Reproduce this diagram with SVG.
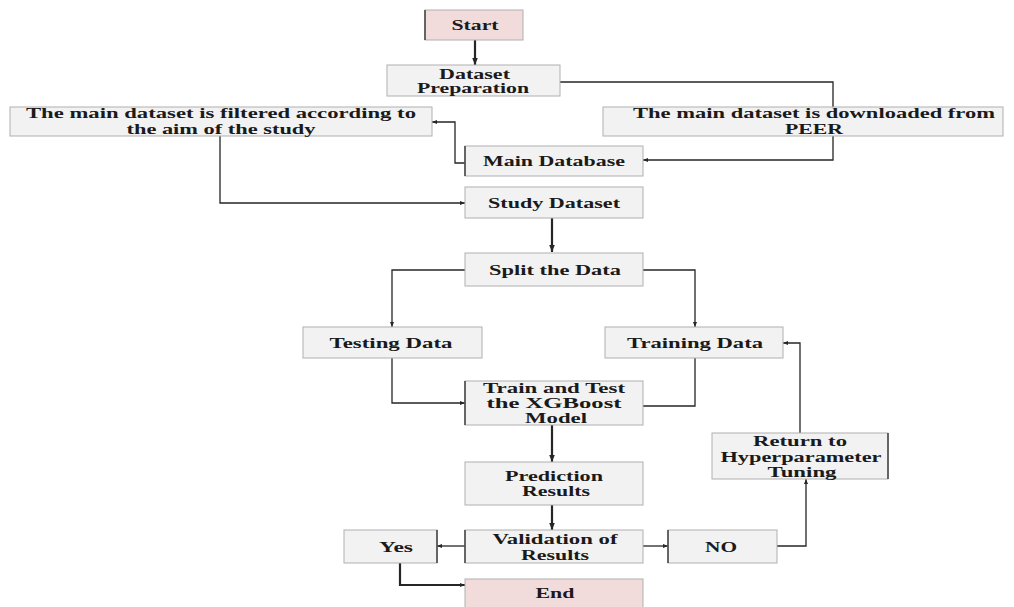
<svg xmlns="http://www.w3.org/2000/svg" width="1014" height="607" viewBox="0 0 1014 607">
<defs>
<style>
.box{fill:#f2f2f2;stroke:#b0b0b0;stroke-width:1}
.pink{fill:#f2dcdb;stroke:#b0b0b0;stroke-width:1}
.edge{stroke:#404040;stroke-width:1.5}
text{font-family:"Liberation Serif","Times New Roman",serif;font-weight:bold;font-size:15px;fill:#1a1a1a;text-anchor:middle}
.c{fill:none;stroke:#262626;stroke-width:1.3}
.ct{fill:none;stroke:#262626;stroke-width:2.2}
</style>
<marker id="a" viewBox="0 0 10 10" refX="10" refY="5" markerWidth="5" markerHeight="5" orient="auto" markerUnits="userSpaceOnUse"><path d="M0,1 L10,5 L0,9 z" fill="#262626"/></marker>
<marker id="b" viewBox="0 0 10 10" refX="10" refY="5" markerWidth="7" markerHeight="7" orient="auto" markerUnits="userSpaceOnUse"><path d="M0,1 L10,5 L0,9 z" fill="#262626"/></marker>
</defs>
<rect width="1014" height="607" fill="#ffffff"/>

<g id="connectors">
<path class="ct" d="M475,40 V65" marker-end="url(#b)"/>
<path class="c" d="M560,82 H833 V107"/>
<path class="c" d="M833,136 V160 H643" marker-end="url(#a)"/>
<path class="c" d="M465,163 H455 V122 H432" marker-end="url(#a)"/>
<path class="c" d="M220,136 V203 H465" marker-end="url(#a)"/>
<path class="ct" d="M552,218 V252" marker-end="url(#b)"/>
<path class="c" d="M465,270 H392 V327" marker-end="url(#a)"/>
<path class="c" d="M643,270 H695 V327" marker-end="url(#a)"/>
<path class="c" d="M392,358 V403 H465" marker-end="url(#a)"/>
<path class="c" d="M695,358 V406 H643"/>
<path class="ct" d="M552,425 V462" marker-end="url(#b)"/>
<path class="ct" d="M552,505 V530" marker-end="url(#b)"/>
<path class="c" d="M465,546 H437" marker-end="url(#a)"/>
<path class="c" d="M643,546 H668" marker-end="url(#a)"/>
<path class="c" d="M777,546 H806 V479" marker-end="url(#a)"/>
<path class="c" d="M800,433 V343 H783" marker-end="url(#a)"/>
<path class="ct" d="M400,563 V585 H465" marker-end="url(#a)"/>
</g>

<g id="start">
<rect class="pink" x="425" y="10" width="98" height="30"/>
<line class="edge" x1="425" y1="10" x2="425" y2="40"/>
<text x="475" y="30" textLength="47" lengthAdjust="spacingAndGlyphs">Start</text>
</g>
<g id="dataset-preparation">
<rect class="box" x="387" y="65" width="173" height="31" stroke="#808080"/>
<text x="474.5" y="79" textLength="71" lengthAdjust="spacingAndGlyphs">Dataset</text>
<text x="473" y="93" textLength="112" lengthAdjust="spacingAndGlyphs">Preparation</text>
</g>
<g id="filtered">
<rect class="box" x="10" y="107" width="422" height="29"/>
<text x="221" y="118" textLength="390" lengthAdjust="spacingAndGlyphs">The main dataset is filtered according to</text>
<text x="221" y="134" textLength="189" lengthAdjust="spacingAndGlyphs">the aim of the study</text>
</g>
<g id="downloaded">
<rect class="box" x="603" y="107" width="400" height="29"/>
<text x="814" y="118" textLength="362" lengthAdjust="spacingAndGlyphs">The main dataset is downloaded from</text>
<text x="814" y="134" textLength="58" lengthAdjust="spacingAndGlyphs">PEER</text>
</g>
<g id="main-database">
<rect class="box" x="465" y="146" width="178" height="30"/>
<line class="edge" x1="465" y1="146" x2="465" y2="176"/>
<text x="554" y="166" textLength="142" lengthAdjust="spacingAndGlyphs">Main Database</text>
</g>
<g id="study-dataset">
<rect class="box" x="465" y="187" width="178" height="31" stroke="#808080"/>
<text x="554" y="208" textLength="132" lengthAdjust="spacingAndGlyphs">Study Dataset</text>
</g>
<g id="split">
<rect class="box" x="465" y="253" width="178" height="33"/>
<text x="555" y="275" textLength="132" lengthAdjust="spacingAndGlyphs">Split the Data</text>
</g>
<g id="testing">
<rect class="box" x="303" y="327" width="179" height="31" stroke="#606060"/>
<text x="391" y="348" textLength="123" lengthAdjust="spacingAndGlyphs">Testing Data</text>
</g>
<g id="training">
<rect class="box" x="605" y="327" width="178" height="31" stroke="#606060"/>
<text x="695" y="348" textLength="136" lengthAdjust="spacingAndGlyphs">Training Data</text>
</g>
<g id="train-test">
<rect class="box" x="465" y="381" width="178" height="44"/>
<line class="edge" x1="465" y1="381" x2="465" y2="425" stroke="#909090"/>
<text x="554" y="393" textLength="142" lengthAdjust="spacingAndGlyphs">Train and Test</text>
<text x="554" y="408" textLength="135" lengthAdjust="spacingAndGlyphs">the XGBoost</text>
<text x="556" y="423" textLength="62" lengthAdjust="spacingAndGlyphs">Model</text>
</g>
<g id="prediction">
<rect class="box" x="465" y="462" width="178" height="43" stroke="#808080"/>
<text x="554" y="481" textLength="98" lengthAdjust="spacingAndGlyphs">Prediction</text>
<text x="556" y="496" textLength="68" lengthAdjust="spacingAndGlyphs">Results</text>
</g>
<g id="validation">
<rect class="box" x="465" y="530" width="178" height="33"/>
<line class="edge" x1="465" y1="530" x2="465" y2="563"/>
<text x="555" y="544" textLength="125" lengthAdjust="spacingAndGlyphs">Validation of</text>
<text x="555" y="560" textLength="68" lengthAdjust="spacingAndGlyphs">Results</text>
</g>
<g id="yes">
<rect class="box" x="344" y="530" width="93" height="33"/>
<line class="edge" x1="437" y1="530" x2="437" y2="563"/>
<text x="396" y="552" textLength="34" lengthAdjust="spacingAndGlyphs">Yes</text>
</g>
<g id="no">
<rect class="box" x="668" y="530" width="109" height="33"/>
<line class="edge" x1="668" y1="530" x2="668" y2="563"/>
<text x="721" y="552" textLength="32" lengthAdjust="spacingAndGlyphs">NO</text>
</g>
<g id="end">
<rect class="pink" x="465" y="579" width="178" height="30"/>
<text x="555" y="598" textLength="39" lengthAdjust="spacingAndGlyphs">End</text>
</g>
<g id="return">
<rect class="box" x="712" y="433" width="176" height="46"/>
<line class="edge" x1="888" y1="433" x2="888" y2="479"/>
<text x="800" y="446" textLength="94" lengthAdjust="spacingAndGlyphs">Return to</text>
<text x="801" y="462" textLength="161" lengthAdjust="spacingAndGlyphs">Hyperparameter</text>
<text x="802" y="477" textLength="69" lengthAdjust="spacingAndGlyphs">Tuning</text>
</g>
</svg>
